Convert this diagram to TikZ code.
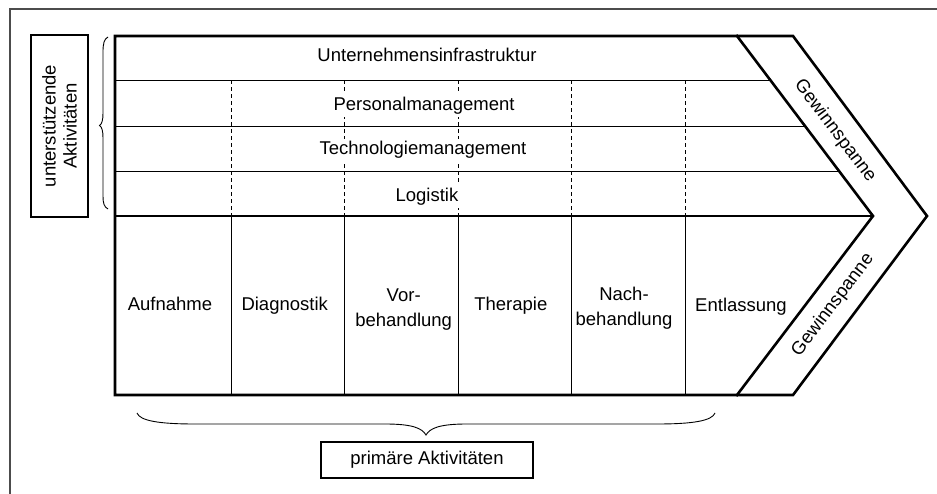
\documentclass[tikz,border=0pt]{standalone}
\usepackage{fontspec}
\setmainfont{Liberation Sans}
\usetikzlibrary{calc}
\begin{document}
\begin{tikzpicture}[x=1pt,y=-1pt,
  heavy/.style={line width=2.6pt, line join=miter, line cap=rect},
  thinline/.style={line width=0.9pt},
  dashline/.style={line width=0.9pt, dash pattern=on 4pt off 3pt},
  lbl/.style={font=\fontsize{18.5}{25}\selectfont, inner sep=2pt, align=center},
  wlbl/.style={lbl, fill=white, inner sep=3pt},
  labelbox/.style={draw, line width=2pt, font=\fontsize{18.5}{21}\selectfont, align=center, inner sep=0pt},
  frameline/.style={draw=black!70, line width=1.8pt},
  bracepath/.style={line width=0.9pt}
]
\useasboundingbox (0,0) rectangle (937,494);

% outer frame (cut by the picture edge)
\draw[frameline] (10,500) -- (10,9) -- (945,9);

% corner points of the value chain
\coordinate (TL) at (115,36);
\coordinate (BL) at (115,395);
\coordinate (iT) at (737,36);
\coordinate (iTip) at (873,216);
\coordinate (iB) at (737,395);
\coordinate (oT) at (793,36);
\coordinate (oTip) at (927,216);
\coordinate (oB) at (793,395);
\coordinate (SL) at (115,216);

% support rows
\draw[thinline] (115,80.5) -- ($(iT)!0.2472!(iTip)$);
\draw[thinline] (115,126) -- ($(iT)!0.5!(iTip)$);
\draw[thinline] (115,171.5) -- ($(iT)!0.7528!(iTip)$);

% dashed dividers in support rows, solid ones in primary area
\foreach \x in {231,344.5,458,571,685} {
  \draw[dashline] (\x,80.5) -- (\x,216);
  \draw[thinline] (\x,216) -- (\x,395);
}

% support activity labels
\node[lbl, anchor=base] (uinf) at (427,62) {Unternehmensinfrastruktur};
\node[wlbl, anchor=base] (pers) at (424,110.5) {Personalmanagement};
\node[wlbl, anchor=base] (tech) at (423,155) {Technologiemanagement};
\node[wlbl, anchor=base] (logi) at (427,201.5) {Logistik};

% primary activity labels
\node[lbl, anchor=base] (auf) at (170,310.7) {Aufnahme};
\node[lbl, anchor=base] (dia) at (284.7,310.7) {Diagnostik};
\node[lbl, anchor=base] (vor) at (403.7,326.5) {Vor-\\behandlung};
\node[lbl, anchor=base] (the) at (510.8,310.7) {Therapie};
\node[lbl, anchor=base] (nach) at (624,326) {Nach-\\behandlung};
\node[lbl, anchor=base] (ent) at (741,311.5) {Entlassung};

% margin labels
\node[lbl, rotate=-53] (gw1) at (835,131) {Gewinnspanne};
\node[lbl, rotate=53] (gw2) at (833,305) {Gewinnspanne};

% heavy outline
\draw[heavy] (TL) -- (oT) -- (oTip) -- (oB) -- (BL) -- cycle;
\draw[heavy] (iT) -- (iTip) -- (iB);
\draw[heavy] (SL) -- (iTip);

% label boxes
\node[labelbox, rotate=90, minimum width=182pt, minimum height=57pt] (sup) at (59.5,126) {unterstützende\\Aktivitäten};
\node[labelbox, minimum width=212pt, minimum height=36pt] (prim) at (427,460) {primäre Aktivitäten};

% braces
\coordinate (lbTop) at (108,37);
\coordinate (lbBot) at (108,209);
\draw[bracepath] (lbTop) .. controls (104,39) and (103,44) .. (103,52) -- (103,113)
  .. controls (103,120) and (102,124) .. (99.5,125.5)
  .. controls (102,127) and (103,131) .. (103,138) -- (103,196)
  .. controls (103,203) and (104,207) .. (lbBot);
\coordinate (bbL) at (137,413);
\coordinate (bbR) at (715,413);
\draw[bracepath] (bbL) .. controls (140,421) and (160,424) .. (195,424) -- (385,424)
  .. controls (412,424) and (422,428) .. (426,435)
  .. controls (430,428) and (440,424) .. (467,424) -- (657,424)
  .. controls (692,424) and (712,421) .. (bbR);
\end{tikzpicture}
\end{document}
